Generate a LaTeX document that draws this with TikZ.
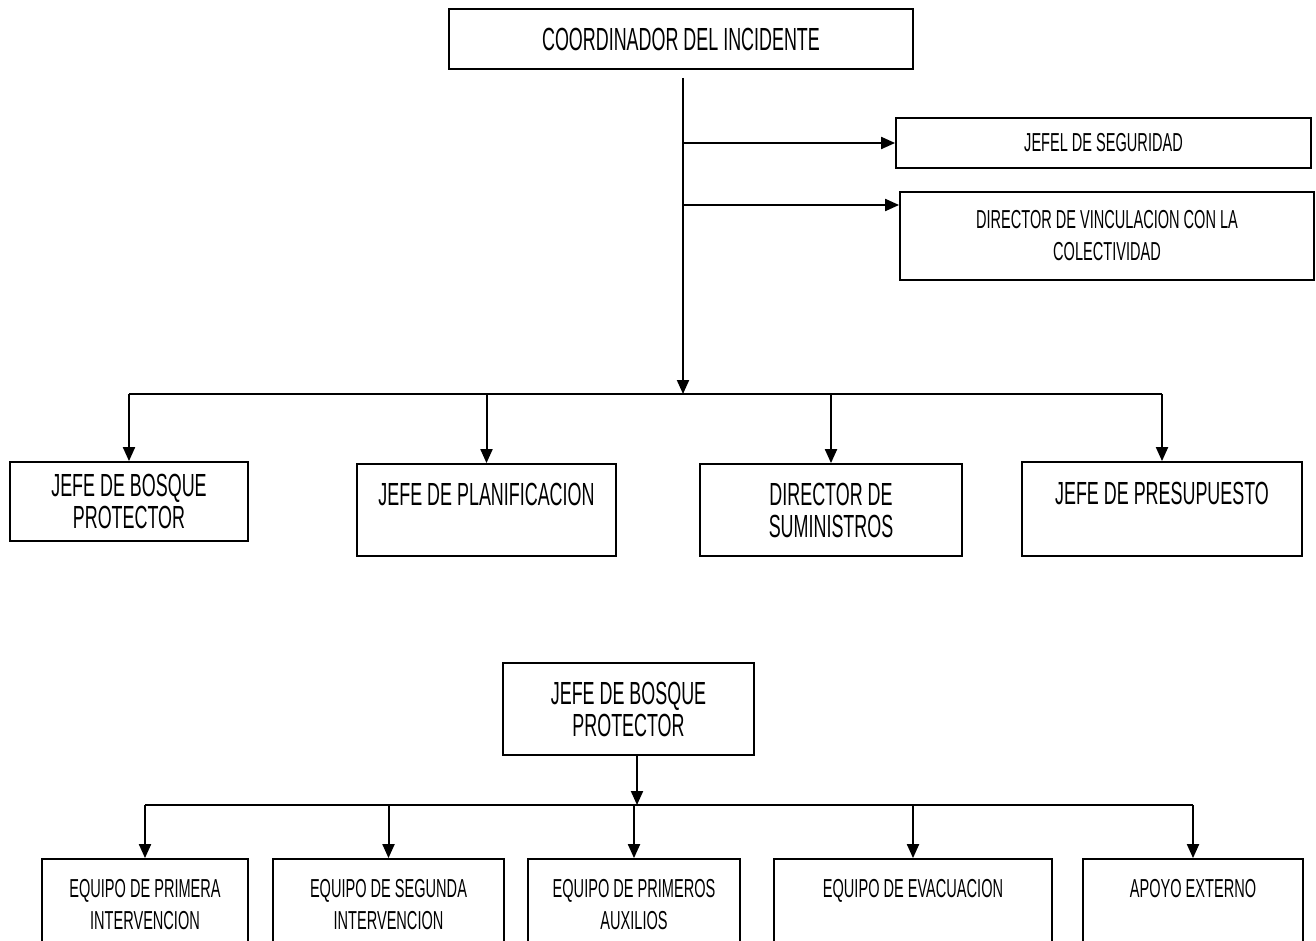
\documentclass[tikz,border=0pt]{standalone}
\usepackage{fontspec}
\setmainfont[FakeStretch=0.56]{Liberation Sans}
\usetikzlibrary{arrows.meta}
\begin{document}
\begin{tikzpicture}[x=0.5pt,y=-0.5pt]

		\tikzstyle{post}=[rectangle,
			draw=black,line width=0.9pt,
			align=center,inner sep=0mm,
			font=\fontsize{16}{16}\selectfont]
		\tikzstyle{small}=[font=\fontsize{13}{16}\selectfont]
		\tikzstyle{arrow}=[-{Triangle[width=6pt,length=7pt]},
			draw=black,line width=1pt]
		\tikzstyle{bar}=[draw=black,line width=0.9pt]

		\useasboundingbox (0,0) rectangle (1316,941);

		% organigrama general
		\node[post,minimum width=232pt,minimum height=30pt]	(coordinador)	at (681,39)	{COORDINADOR DEL INCIDENTE};
		\node[post,small,minimum width=207.5pt,minimum height=25pt]	(seguridad)	at (1103.5,143)	{JEFEL DE SEGURIDAD};
		\node[post,small,minimum width=207pt,minimum height=44pt]	(vinculacion)	at (1107,236)	{DIRECTOR DE VINCULACION CON LA\\ COLECTIVIDAD};

		\coordinate	(spine-top)	at (683,78);
		\coordinate	(spine-bot)	at (683,394);
		\coordinate	(to-seg)	at (683,143);
		\coordinate	(to-vin)	at (683,205);

		\node[post,minimum width=119pt,minimum height=39.5pt]	(bosque)	at (129,501.5)	{JEFE DE BOSQUE\\ PROTECTOR};
		\node[post,minimum width=129.5pt,minimum height=46pt]	(planif)	at (486.5,510)	{JEFE DE PLANIFICACION\\ \mbox{}};
		\node[post,minimum width=131pt,minimum height=46pt]	(suministros)	at (831,510)	{DIRECTOR DE\\ SUMINISTROS};
		\node[post,minimum width=140pt,minimum height=47pt]	(presupuesto)	at (1162,509)	{JEFE DE PRESUPUESTO\\ \mbox{}};

		\draw[arrow]	(spine-top)	--	(spine-bot);
		\draw[arrow]	(to-seg)	--	(to-seg -| seguridad.west);
		\draw[arrow]	(to-vin)	--	(to-vin -| vinculacion.west);

		\draw[bar]	(bosque.north |- spine-bot)	--	(presupuesto.north |- spine-bot);
		\draw[arrow]	(bosque.north |- spine-bot)	--	(bosque.north);
		\draw[arrow]	(planif.north |- spine-bot)	--	(planif.north);
		\draw[arrow]	(suministros.north |- spine-bot)	--	(suministros.north);
		\draw[arrow]	(presupuesto.north |- spine-bot)	--	(presupuesto.north);

		% brigadas del bosque protector
		\node[post,minimum width=125.5pt,minimum height=46pt]	(bosque-2)	at (628.5,709)	{JEFE DE BOSQUE\\ PROTECTOR};
		\coordinate	(bar-2)	at (637,805);

		\node[post,small,minimum width=103pt,minimum height=45.5pt]	(primera)	at (145,904.5)	{EQUIPO DE PRIMERA\\ INTERVENCION};
		\node[post,small,minimum width=115.5pt,minimum height=45.5pt]	(segunda)	at (388.5,904.5)	{EQUIPO DE SEGUNDA\\ INTERVENCION};
		\node[post,small,minimum width=106pt,minimum height=45.5pt]	(auxilios)	at (634,904.5)	{EQUIPO DE PRIMEROS\\ AUXILIOS};
		\node[post,small,minimum width=139pt,minimum height=45.5pt]	(evacuacion)	at (913,904.5)	{EQUIPO DE EVACUACION\\ \mbox{}};
		\node[post,small,minimum width=110pt,minimum height=45.5pt]	(apoyo)	at (1193,904.5)	{APOYO EXTERNO\\ \mbox{}};

		\draw[arrow]	(bar-2 |- bosque-2.south)	--	(bar-2);
		\draw[bar]	(primera.north |- bar-2)	--	(apoyo.north |- bar-2);
		\draw[arrow]	(primera.north |- bar-2)	--	(primera.north);
		\draw[arrow]	(segunda.north |- bar-2)	--	(segunda.north);
		\draw[arrow]	(auxilios.north |- bar-2)	--	(auxilios.north);
		\draw[arrow]	(evacuacion.north |- bar-2)	--	(evacuacion.north);
		\draw[arrow]	(apoyo.north |- bar-2)	--	(apoyo.north);

	\end{tikzpicture}
\end{document}
